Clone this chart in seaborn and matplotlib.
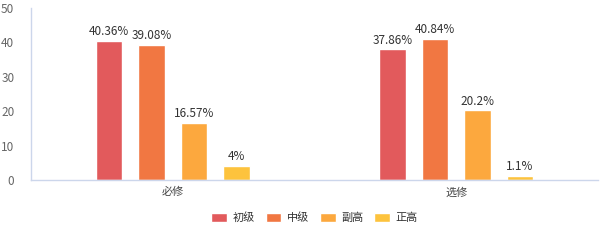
import matplotlib
matplotlib.use("Agg")
import matplotlib.pyplot as plt
import seaborn as sns
import pandas as pd

categories = ["必修", "选修"]
levels = ["初级", "中级", "副高", "正高"]
values_bixiu = [40.36, 39.08, 16.57, 4]
values_xuanxiu = [37.86, 40.84, 20.2, 1.1]
labels_bixiu = ["40.36%", "39.08%", "16.57%", "4%"]
labels_xuanxiu = ["37.86%", "40.84%", "20.2%", "1.1%"]
colors = ["#e25a5c", "#f17742", "#fca83e", "#fdc33d"]

rows = []
for lv, v in zip(levels, values_bixiu):
    rows.append({"cat": categories[0], "level": lv, "val": v})
for lv, v in zip(levels, values_xuanxiu):
    rows.append({"cat": categories[1], "level": lv, "val": v})
df = pd.DataFrame(rows)

sns.set_style("white")
plt.rcParams['font.family'] = ['Noto Sans CJK SC', 'DejaVu Sans']

fig = plt.figure(figsize=(6.07, 2.44), dpi=100)
ax = fig.add_axes([0.051, 0.262, 0.934, 0.707])
sns.barplot(data=df, x="cat", y="val", hue="level", hue_order=levels,
            order=categories, palette=colors, width=0.6, gap=0.38,
            ax=ax, legend=True, saturation=1)

for i, cont in enumerate(ax.containers):
    lab = [labels_bixiu[i], labels_xuanxiu[i]]
    ax.bar_label(cont, labels=lab, padding=2, fontsize=8.5, color="#333333")

ax.set_xlim(-0.5, 1.5)
ax.set_ylim(0, 50)
ax.set_yticks([0, 10, 20, 30, 40, 50])
ax.set_xlabel("")
ax.set_ylabel("")
for s in ["top", "right"]:
    ax.spines[s].set_visible(False)
for s in ["left", "bottom"]:
    ax.spines[s].set_color("#ccd6eb")
    ax.spines[s].set_linewidth(1)
ax.tick_params(axis="y", length=0, labelsize=8.5, labelcolor="#666666", pad=12)
ax.tick_params(axis="x", which="major", length=0, labelsize=8, labelcolor="#444444", pad=5)
ax.set_xticks([-0.5, 0.5, 1.5], minor=True)
ax.tick_params(axis="x", which="minor", length=5, color="#ccd6eb", width=1, direction="out")

leg = ax.legend(loc="upper center", bbox_to_anchor=(0.5, -0.13), ncol=4, frameon=False,
                fontsize=8, handlelength=1.4, handleheight=1.0, columnspacing=1.0,
                handletextpad=0.5)
for t in leg.get_texts():
    t.set_color("#333333")

fig.savefig("out.png", dpi=100)
